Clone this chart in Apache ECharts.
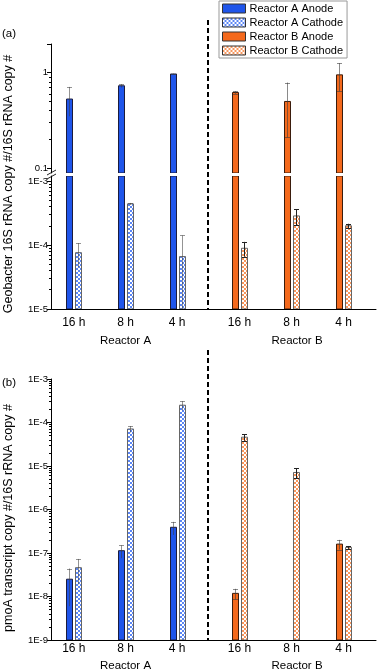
<!DOCTYPE html>
<html>
<head>
<meta charset="utf-8">
<script src="https://cdn.jsdelivr.net/npm/echarts@6/dist/echarts.min.js"></script>
<style>
  html, body { margin: 0; padding: 0; background: #fff; }
  #chart { width: 378px; height: 671px; }
</style>
</head>
<body>
<div id="chart"></div>
<script>
const HOURS = ['16 h', '8 h', '4 h'];
const REACTORS = ['Reactor A', 'Reactor B'];
const SERIES_NAMES = ['Reactor A Anode', 'Reactor A Cathode', 'Reactor B Anode', 'Reactor B Cathode'];

// (a) Geobacter 16S rRNA copy # / 16S rRNA copy #
const GEO_A_ANODE = [0.53, 0.73, 0.97];
const GEO_A_ANODE_SD = [0.18, 0.03, 0.01];
const GEO_A_CATHODE = [7.6e-5, 4.4e-4, 6.6e-5];
const GEO_A_CATHODE_SD = [3.1e-5, 1.5e-5, 7.5e-5];
const GEO_B_ANODE = [0.62, 0.50, 0.95];
const GEO_B_ANODE_SD = [0.02, 0.29, 0.31];
const GEO_B_CATHODE = [8.9e-5, 2.85e-4, 2.0e-4];
const GEO_B_CATHODE_SD = [2.3e-5, 8e-5, 1.5e-5];

// (b) pmoA transcript copy # / 16S rRNA copy #
const PMOA_A_ANODE = [2.5e-8, 1.13e-7, 3.9e-7];
const PMOA_A_ANODE_SD = [1.9e-8, 3.7e-8, 1.3e-7];
const PMOA_A_CATHODE = [4.6e-8, 7.1e-5, 2.5e-4];
const PMOA_A_CATHODE_SD = [2.7e-8, 1.2e-5, 6e-5];
const PMOA_B_ANODE = [1.18e-8, null, 1.6e-7];
const PMOA_B_ANODE_SD = [3.2e-9, null, 4e-8];
const PMOA_B_CATHODE = [4.6e-5, 7.1e-6, 1.35e-7];
const PMOA_B_CATHODE_SD = [8e-6, 1.8e-6, 1e-8];

// y tick labels
const GEO_UPPER_TICKS = [0.1, 1];
const GEO_LOWER_TICKS = [1e-5, 1e-4, 1e-3];
const PMOA_TICKS = [1e-9, 1e-8, 1e-7, 1e-6, 1e-5, 1e-4, 1e-3];

const FONT = '"Liberation Sans", Arial, sans-serif';
const BLUE = '#1f55ea';
const ORANGE = '#f4691c';

function checker(color) {
  const c = document.createElement('canvas');
  c.width = c.height = 4;
  const ctx = c.getContext('2d');
  ctx.fillStyle = '#fff';
  ctx.fillRect(0, 0, 4, 4);
  ctx.fillStyle = color;
  ctx.fillRect(0, 0, 2, 2);
  ctx.fillRect(2, 2, 2, 2);
  return { image: c, repeat: 'repeat' };
}

function minors(fromExp, toExp) {
  const out = [];
  for (let e = fromExp; e < toExp; e++) {
    for (let m = 2; m <= 9; m++) out.push(m * Math.pow(10, e));
  }
  return out;
}

function logLabel(v) {
  const e = Math.round(Math.log10(v));
  return e >= -1 ? String(Math.pow(10, e)) : '1E' + e;
}

const STYLES = [
  { fill: BLUE, stroke: '#1c1c3c', whisker: 'rgba(60,60,60,0.55)', bothCaps: false, offset: -4.5 },
  { fill: checker('#5b86f4'), stroke: '#666', whisker: 'rgba(60,60,60,0.55)', bothCaps: false, offset: 4.5 },
  { fill: ORANGE, stroke: '#3a1c0c', whisker: 'rgba(60,60,60,0.6)', bothCaps: true, offset: -4.5 },
  { fill: checker('#f8965c'), stroke: '#666', whisker: '#222', bothCaps: true, offset: 4.5 }
];

const GEO_VALUES = [GEO_A_ANODE, GEO_A_CATHODE, GEO_B_ANODE, GEO_B_CATHODE];
const GEO_SDS = [GEO_A_ANODE_SD, GEO_A_CATHODE_SD, GEO_B_ANODE_SD, GEO_B_CATHODE_SD];
const PMOA_VALUES = [PMOA_A_ANODE, PMOA_A_CATHODE, PMOA_B_ANODE, PMOA_B_CATHODE];
const PMOA_SDS = [PMOA_A_ANODE_SD, PMOA_A_CATHODE_SD, PMOA_B_ANODE_SD, PMOA_B_CATHODE_SD];

// three plotting bands: (a) upper, (a) lower (after the break), (b)
const ROWS = [
  { top: 44, height: 129, min: 0.089, max: 2, labels: GEO_UPPER_TICKS, ticks: [0.1, 1, 2],
    minor: minors(-1, 0), values: GEO_VALUES, sds: GEO_SDS, bottomAxis: false,
    labelMargin: 8, nameGap: 26 },
  { top: 176, height: 133, min: 1e-5, max: 1.2e-3, labels: GEO_LOWER_TICKS, ticks: GEO_LOWER_TICKS,
    minor: minors(-5, -3), values: GEO_VALUES, sds: GEO_SDS, bottomAxis: true,
    labelMargin: 8, nameGap: 26 },
  { top: 379, height: 261, min: 1e-9, max: 1e-3, labels: PMOA_TICKS, ticks: PMOA_TICKS,
    minor: minors(-9, -3), values: PMOA_VALUES, sds: PMOA_SDS, bottomAxis: true,
    labelMargin: 3, nameGap: 20 }
];

const GROUP_BOX = [{ left: 48, width: 155 }, { left: 213.5, width: 156 }];

function renderBar(st) {
  return function (params, api) {
    const v = api.value(1);
    if (!(v > 0)) return null;
    const sd = api.value(2);
    const cs = params.coordSys;
    const top = cs.y, bottom = cs.y + cs.height;
    const clampY = y => Math.max(top, Math.min(bottom, y));
    const cat = api.value(0);
    const p = api.coord([cat, v]);
    const cx = Math.round(p[0] + st.offset);
    const yv = clampY(p[1]);
    const children = [];
    if (bottom - yv > 0.5) {
      children.push({
        type: 'rect',
        shape: { x: cx - 3 + 0.5, y: yv, width: 6, height: bottom - yv },
        style: { fill: st.fill, stroke: st.stroke, lineWidth: 1 }
      });
    }
    if (sd > 0 && bottom - yv > 0.5) {
      const hiY = api.coord([cat, v + sd])[1];
      const lo = v - sd;
      const loY = lo > 0 ? api.coord([cat, lo])[1] : bottom;
      const y1 = clampY(hiY), y2 = clampY(loY);
      const lineStyle = { stroke: st.whisker, lineWidth: 1 };
      if (y2 - y1 > 0.5) {
        children.push({ type: 'line', shape: { x1: cx + 0.5, y1: y1, x2: cx + 0.5, y2: y2 }, style: lineStyle });
      }
      if (hiY >= top && hiY <= bottom) {
        children.push({ type: 'line', shape: { x1: cx - 2, y1: Math.round(hiY) + 0.5, x2: cx + 3, y2: Math.round(hiY) + 0.5 }, style: lineStyle });
      }
      if (st.bothCaps && lo > 0 && loY >= top && loY <= bottom) {
        children.push({ type: 'line', shape: { x1: cx - 2, y1: Math.round(loY) + 0.5, x2: cx + 3, y2: Math.round(loY) + 0.5 }, style: lineStyle });
      }
    }
    return { type: 'group', children: children };
  };
}

const grids = [], xAxes = [], yAxes = [], series = [];
const txt = { color: '#000', fontFamily: FONT };

ROWS.forEach(row => {
  // frame: y axis with labels + bottom axis line across the whole width
  const gF = grids.length;
  grids.push({ left: 51, width: 325, top: row.top, height: row.height, outerBoundsMode: 'none', containLabel: false });
  xAxes.push({
    gridIndex: gF, type: 'value', min: 0, max: 1, show: row.bottomAxis,
    axisLine: { show: true, lineStyle: { color: '#000', width: 1 } },
    axisTick: { show: false }, axisLabel: { show: false }, splitLine: { show: false }
  });
  yAxes.push({
    gridIndex: gF, type: 'log', logBase: 10, position: 'left', min: row.min, max: row.max,
    axisLine: { show: true, lineStyle: { color: '#000', width: 1 } },
    axisTick: { show: true, length: 4, customValues: row.ticks, lineStyle: { color: '#000' } },
    axisLabel: { show: true, customValues: row.labels, formatter: logLabel, fontSize: 9.5, margin: 3, ...txt },
    splitLine: { show: false }, minorTick: { show: false }
  });
  yAxes.push({
    gridIndex: gF, type: 'log', logBase: 10, position: 'left', min: row.min, max: row.max,
    axisLine: { show: false },
    axisTick: { show: true, length: 2, customValues: row.minor, lineStyle: { color: '#000' } },
    axisLabel: { show: false }, splitLine: { show: false }
  });

  GROUP_BOX.forEach((box, gi) => {
    const g = grids.length;
    grids.push({ left: box.left, width: box.width, top: row.top, height: row.height, outerBoundsMode: 'none', containLabel: false });
    const xi = xAxes.length;
    xAxes.push({
      gridIndex: g, type: 'category', data: HOURS, show: row.bottomAxis,
      axisLine: { show: false }, axisTick: { show: false },
      axisLabel: { fontSize: 12, margin: row.labelMargin, ...txt },
      name: REACTORS[gi], nameLocation: 'middle', nameGap: row.nameGap,
      nameTextStyle: { fontSize: 11.5, padding: gi === 1 ? [0, 0, 0, 11] : 0, ...txt }
    });
    const yi = yAxes.length;
    yAxes.push({ gridIndex: g, type: 'log', logBase: 10, min: row.min, max: row.max, show: false });

    [gi * 2, gi * 2 + 1].forEach(k => {
      const st = STYLES[k];
      series.push({
        type: 'custom', name: SERIES_NAMES[k], xAxisIndex: xi, yAxisIndex: yi, clip: true,
        itemStyle: { color: st.fill, borderColor: st.stroke, borderWidth: 1 },
        renderItem: renderBar(st),
        data: HOURS.map((h, i) => [i, row.values[k][i], row.sds[k][i]])
      });
    });
  });
});

const chart = echarts.init(document.getElementById('chart'), null, { renderer: 'canvas' });
chart.setOption({
  backgroundColor: '#fff',
  animation: false,
  grid: grids,
  xAxis: xAxes,
  yAxis: yAxes,
  series: series,
  legend: {
    data: SERIES_NAMES, orient: 'vertical', left: 219, top: 1,
    icon: 'rect', itemWidth: 23, itemHeight: 9, itemGap: 3,
    padding: [2, 4, 2, 3],
    backgroundColor: '#fff', borderColor: '#999', borderWidth: 1, borderRadius: 0,
    selectedMode: false,
    itemStyle: { borderColor: '#333', borderWidth: 1 },
    textStyle: { fontSize: 11, lineHeight: 11, padding: [0, 0, 0, -1], ...txt }
  },
  graphic: [
    { type: 'text', x: 2, y: 34, style: { text: '(a)', font: '11.5px ' + FONT, fill: '#000', verticalAlign: 'middle', textVerticalAlign: 'middle' } },
    { type: 'text', x: 2, y: 383, style: { text: '(b)', font: '11.5px ' + FONT, fill: '#000', verticalAlign: 'middle', textVerticalAlign: 'middle' } },
    { type: 'text', x: 9, y: 184, rotation: Math.PI / 2,
      style: { text: 'Geobacter 16S rRNA copy #/16S rRNA copy #', font: '12.5px ' + FONT, fill: '#000',
        align: 'center', verticalAlign: 'middle', textAlign: 'center', textVerticalAlign: 'middle' } },
    { type: 'text', x: 9, y: 518, rotation: Math.PI / 2,
      style: { text: 'pmoA transcript copy #/16S rRNA copy #', font: '12.5px ' + FONT, fill: '#000',
        align: 'center', verticalAlign: 'middle', textAlign: 'center', textVerticalAlign: 'middle' } },
    // axis break marks
    { type: 'line', shape: { x1: 47, y1: 175, x2: 56, y2: 170 }, style: { stroke: '#222', lineWidth: 1 } },
    { type: 'line', shape: { x1: 47, y1: 179, x2: 56, y2: 174 }, style: { stroke: '#222', lineWidth: 1 } },
    // reactor separators
    { type: 'line', shape: { x1: 208, y1: 20, x2: 208, y2: 309 }, style: { stroke: '#000', lineWidth: 2, lineDash: [5, 3] } },
    { type: 'line', shape: { x1: 208, y1: 350, x2: 208, y2: 640 }, style: { stroke: '#000', lineWidth: 2, lineDash: [5, 3] } }
  ]
});
</script>
</body>
</html>
